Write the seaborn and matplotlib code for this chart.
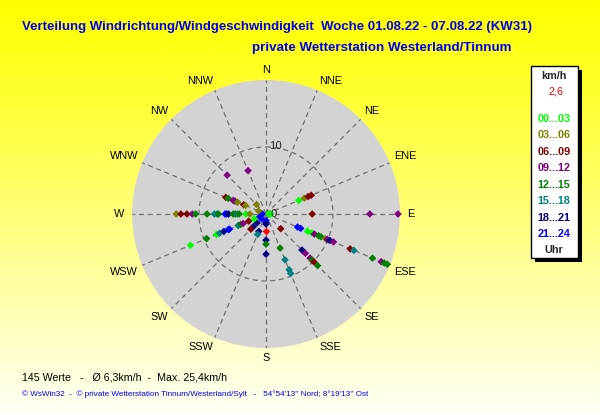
import numpy as np
import pandas as pd
import matplotlib
matplotlib.use("Agg")
import matplotlib.pyplot as plt
from matplotlib.patches import Rectangle
import seaborn as sns

# ---------------- data ----------------
compass = ["N", "NNE", "NE", "ENE", "E", "ESE", "SE", "SSE",
           "S", "SSW", "SW", "WSW", "W", "WNW", "NW", "NNW"]
bin_labels = ["00...03", "03...06", "06...09", "09...12",
              "12...15", "15...18", "18...21", "21...24"]
bin_colors = ["#00FF00", "#808000", "#800000", "#800080",
              "#008000", "#008080", "#000080", "#0000FF"]
ring_values = [10]
r_max = 20
current_speed = 2.6
current_dir = "S"
count_values = 145
mean_speed = 6.3
max_speed = 25.4

title = "Verteilung Windrichtung/Windgeschwindigkeit  Woche 01.08.22 - 07.08.22 (KW31)"
subtitle = "private Wetterstation Westerland/Tinnum"
footer = "\u00a9 WsWin32  -  \u00a9 private Wetterstation Tinnum/Westerland/Sylt   -   54\u00b054'13'' Nord; 8\u00b019'13'' Ost"

point_dir = (["E"] * 5 + ["ENE"] * 4 + ["ESE"] * 17 + ["SE"] * 7 + ["SSE"] * 4
             + ["S"] * 6 + ["SSW"] * 2 + ["SW"] * 4 + ["WSW"] * 13 + ["W"] * 19
             + ["WNW"] * 8 + ["NW"] * 2 + ["NNW"] * 1)
point_speed = [6.9, 15.5, 25.4, 0.4, 0.7,
               5.3, 6.2, 6.8, 7.3,
               5.1, 5.6, 6.7, 7.4, 7.8, 8.5, 8.9, 9.6, 9.9, 10.3, 10.9, 13.6, 14.2, 17.2, 18.6, 19.1, 19.6,
               3.1, 7.6, 8.3, 9.3, 9.7, 10.1, 10.9,
               5.5, 7.4, 9.0, 9.6,
               3.9, 4.5, 6.0, 1.0, 1.3, 1.5,
               2.8, 3.3,
               2.7, 3.2, 1.9, 1.0,
               12.2, 9.6, 8.0, 7.5, 6.8, 6.1, 5.9, 4.5, 4.1, 3.7, 2.8, 1.9, 1.0,
               13.4, 12.7, 11.8, 11.0, 10.5, 8.8, 7.7, 7.3, 7.1, 6.1, 5.9, 5.6, 4.9, 4.6, 4.3, 4.0, 3.0, 2.4, 0.6,
               6.5, 6.1, 5.3, 5.0, 4.6, 3.6, 3.3, 1.2,
               8.2, 2.0,
               7.0]
point_bin = [2, 3, 3, 0, 0,
             0, 1, 2, 2,
             7, 7, 0, 0, 3, 4, 4, 1, 3, 6, 3, 2, 5, 4, 3, 4, 4,
             2, 6, 3, 3, 4, 2, 4,
             4, 5, 5, 5,
             6, 4, 6, 7, 7, 6,
             6, 5,
             6, 2, 6, 7,
             0, 4, 0, 5, 6, 7, 7, 5, 4, 3, 2, 0, 7,
             1, 2, 2, 3, 4, 4, 5, 5, 4, 7, 7, 6, 4, 4, 5, 4, 0, 1, 7,
             2, 4, 3, 3, 1, 2, 1, 1,
             3, 1,
             3]

# ---------------- figure ----------------
W, H = 600, 415
sns.set_theme(style="white")
plt.rcParams["font.family"] = ["Liberation Sans", "DejaVu Sans"]

fig = plt.figure(figsize=(W / 100, H / 100), dpi=100)

# background gradient (yellow at top -> almost white at bottom)
bg = fig.add_axes([0, 0, 1, 1], zorder=-10)
g = np.linspace(0, 1, 415)[:, None]
img = np.ones((415, 1, 3))
img[..., 2] = g ** 1.1 * 0.97
bg.imshow(img, aspect="auto", extent=[0, 1, 0, 1])
bg.set_axis_off()

cx, cy, R = 266, 214, 134
ax = fig.add_axes([(cx - R) / W, 1 - (cy + R) / H, 2 * R / W, 2 * R / H], projection="polar")
ax.set_theta_zero_location("N")
ax.set_theta_direction(-1)
ax.set_facecolor("#D3D3D3")
ax.set_ylim(0, r_max)
theta_ticks = np.deg2rad(np.arange(len(compass)) * 360 / len(compass))
ax.set_xticks(theta_ticks)
ax.set_xticklabels([])
ax.set_yticks(ring_values)
ax.set_yticklabels([])
ax.grid(True, color="#707070", linestyle=(0, (4, 3)), linewidth=0.9)
ax.spines["polar"].set_visible(False)

for th, lab in zip(theta_ticks, compass):
    s, c = np.sin(th), np.cos(th)
    if abs(s) < 1e-6:
        ha, va, rr = "center", "center", 1.078
    elif abs(c) < 1e-6:
        ha, va, rr = ("left" if s > 0 else "right"), "center", 1.055
    else:
        ha = "left" if s > 0 else "right"
        va = "bottom" if c > 0 else "top"
        rr = 1.035
    ax.text(th, r_max * rr, lab, ha=ha, va=va, fontsize=7.8,
            color="black", clip_on=False)

df = pd.DataFrame({
    "theta": [theta_ticks[compass.index(d)] for d in point_dir],
    "speed": np.minimum(point_speed, r_max * 0.985),
    "bin": point_bin,
})
sns.scatterplot(data=df, x="theta", y="speed", hue="bin",
                palette=dict(enumerate(bin_colors)), hue_order=list(range(8)),
                marker="D", s=15, linewidth=0, legend=False, ax=ax, zorder=3, clip_on=False)
sns.scatterplot(x=[theta_ticks[compass.index(current_dir)]], y=[current_speed],
                color="#FF0000", marker="D", s=15, linewidth=0, legend=False, ax=ax, zorder=4)
ax.set_xlabel("")
ax.set_ylabel("")
ax.set_xticklabels([])
ax.set_yticklabels([])

ax.annotate(str(ring_values[0]), xy=(0, ring_values[0]), xytext=(2, 1),
            textcoords="offset points", ha="left", va="center", fontsize=8.2)
ax.annotate("0", xy=(0, 0), xytext=(3.5, 0), textcoords="offset points",
            ha="left", va="center", fontsize=8.2, zorder=5)


def fx(x):
    return x / W


def fy(y):
    return 1 - y / H


# titles
fig.text(fx(22), fy(27), title, color="#0000F0", fontsize=9.5, fontweight="bold",
         ha="left", va="center")
fig.text(fx(512), fy(48), subtitle, color="#0000F0", fontsize=9.6, fontweight="bold",
         ha="right", va="center")

# legend box
fig.patches.append(Rectangle((fx(535), fy(262)), 47 / W, 192 / H, transform=fig.transFigure,
                             facecolor="black", edgecolor="none", zorder=5))
fig.patches.append(Rectangle((fx(531), fy(258)), 47 / W, 192 / H, transform=fig.transFigure,
                             facecolor="white", edgecolor="black", linewidth=1, zorder=6))
fig.text(fx(554), fy(76), "km/h", fontsize=7.8, fontweight="bold", ha="center", va="center", zorder=7)
fig.text(fx(556), fy(92), f"{current_speed:.1f}".replace(".", ","), fontsize=7.8,
         color="#FF0000", ha="center", va="center", zorder=7)
for i, (lab, col) in enumerate(zip(bin_labels, bin_colors)):
    fig.text(fx(554), fy(119 + i * 16.45), lab, fontsize=7.8, fontweight="bold", color=col,
             ha="center", va="center", zorder=7)
fig.text(fx(554), fy(250), "Uhr", fontsize=7.8, fontweight="bold", ha="center", va="center", zorder=7)

# bottom texts
stats = (f"{count_values} Werte   -   \u00d8 {mean_speed:.1f}km/h  -  Max. {max_speed:.1f}km/h").replace(".", ",").replace("Max,", "Max.")
fig.text(fx(22), fy(377), stats, fontsize=7.65, color="black", ha="left", va="center")
fig.text(fx(22), fy(394), footer, fontsize=5.9, color="#0000F0", ha="left", va="center")

fig.savefig("out.png", dpi=100)
